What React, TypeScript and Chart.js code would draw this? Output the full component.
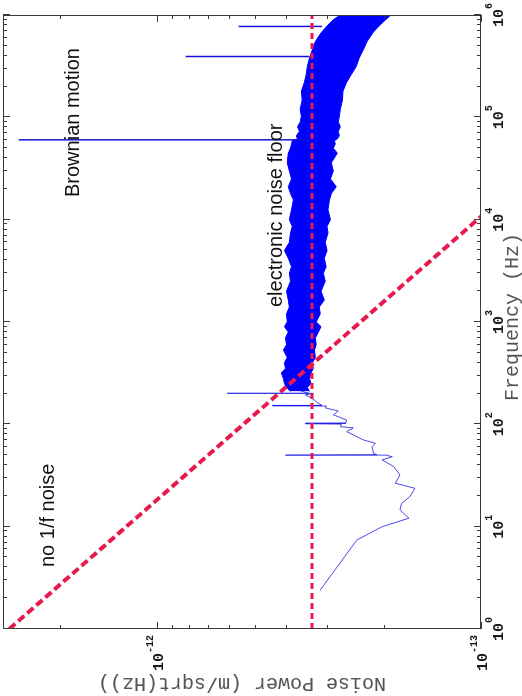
import React, { useEffect, useRef } from "react";
import { Chart, registerables } from "chart.js";

Chart.register(...registerables);

// ---- data (frequency in Hz, noise power in m/sqrt(Hz)) ----
const lowFreq = [2.4, 7.41, 10.0, 12.1, 14.6, 16.9, 19.6, 23.7, 26.6, 32.0, 38.6, 44.9, 48.3, 49.6, 50.0, 50.5, 52.2, 60.5, 65.3, 70.4, 75.9, 84.9, 92.3, 95.0, 100.5, 101.5, 102.5, 110, 124, 135, 145, 151, 152, 153, 162, 181, 194, 199.5, 200.5, 201.5, 212];
const lowPower = [3.14e-13, 2.42e-13, 2.02e-13, 1.67e-13, 1.78e-13, 1.76e-13, 1.66e-13, 1.6e-13, 1.84e-13, 1.78e-13, 1.86e-13, 2.02e-13, 1.88e-13, 1.95e-13, 4.02e-13, 2.1e-13, 2.15e-13, 2.17e-13, 2.12e-13, 2.31e-13, 2.42e-13, 2.6e-13, 2.48e-13, 2.72e-13, 2.7e-13, 3.49e-13, 2.62e-13, 2.6e-13, 2.86e-13, 2.76e-13, 3.03e-13, 3.0e-13, 4.41e-13, 3.1e-13, 3.19e-13, 3.34e-13, 3.49e-13, 3.3e-13, 6.09e-13, 3.4e-13, 3.61e-13];

// upper / lower envelope of the dense noise band
const bandFreq = [210, 230, 250, 280, 318, 350, 400, 450, 533, 600, 700, 800, 900, 1000, 1200, 1400, 1640, 2000, 2500, 3000, 3470, 4200, 5000, 6000, 7400, 8600, 1.0e4, 1.25e4, 1.56e4, 1.8e4, 2.1e4, 2.5e4, 3.0e4, 3.6e4, 4.47e4, 5.0e4, 5.5e4, 5.9e4, 6.15e4, 6.6e4, 7.3e4, 8.1e4, 9.0e4, 1.02e5, 1.2e5, 1.48e5, 1.8e5, 2.16e5, 2.6e5, 3.14e5, 3.8e5, 4.57e5, 5.5e5, 6.7e5, 8.0e5, 9.0e5, 1.0e6];
const bandHigh = [3.88e-13, 3.99e-13, 4.05e-13, 4.08e-13, 4.14e-13, 4.02e-13, 4.05e-13, 3.97e-13, 4.08e-13, 3.99e-13, 4.02e-13, 3.94e-13, 4.05e-13, 3.97e-13, 3.99e-13, 3.91e-13, 3.94e-13, 3.99e-13, 3.88e-13, 3.91e-13, 3.85e-13, 3.94e-13, 4.05e-13, 3.91e-13, 3.88e-13, 3.83e-13, 3.91e-13, 3.85e-13, 3.8e-13, 3.88e-13, 3.94e-13, 3.85e-13, 3.91e-13, 3.97e-13, 3.94e-13, 3.88e-13, 3.85e-13, 3.83e-13, 3.69e-13, 3.72e-13, 3.64e-13, 3.69e-13, 3.62e-13, 3.59e-13, 3.62e-13, 3.57e-13, 3.59e-13, 3.52e-13, 3.47e-13, 3.44e-13, 3.39e-13, 3.32e-13, 3.25e-13, 3.12e-13, 2.97e-13, 2.86e-13, 2.72e-13];
const bandLow = [3.39e-13, 3.44e-13, 3.35e-13, 3.39e-13, 3.35e-13, 3.3e-13, 3.32e-13, 3.25e-13, 3.27e-13, 3.23e-13, 3.25e-13, 3.18e-13, 3.12e-13, 3.23e-13, 3.14e-13, 3.16e-13, 3.05e-13, 3.12e-13, 3.03e-13, 3.07e-13, 3.01e-13, 3.05e-13, 2.99e-13, 3.03e-13, 2.97e-13, 2.99e-13, 2.92e-13, 2.97e-13, 2.94e-13, 2.9e-13, 2.8e-13, 2.92e-13, 2.86e-13, 2.9e-13, 2.78e-13, 2.86e-13, 2.82e-13, 2.84e-13, 2.78e-13, 2.74e-13, 2.76e-13, 2.72e-13, 2.76e-13, 2.74e-13, 2.72e-13, 2.68e-13, 2.67e-13, 2.61e-13, 2.52e-13, 2.43e-13, 2.38e-13, 2.31e-13, 2.25e-13, 2.16e-13, 2.05e-13, 1.97e-13, 1.9e-13];

const spikeFreq = [6.03e4, 3.93e5, 7.73e5];
const spikeBase = [3.4e-13, 3.4e-13, 3.1e-13];
const spikePeak = [2.68e-12, 8.18e-13, 5.61e-13];

const floorFreq = [1, 1e6];
const floorPower = [3.33e-13, 3.33e-13];
const flickerFreq = [1, 2e4];
const flickerPower = [2.87e-12, 7.98e-14];

const freqDecades = [0, 1, 2, 3, 4, 5, 6];
const powerMajor = [-13, -12];
const powerMinor = [2e-13, 3e-13, 4e-13, 5e-13, 6e-13, 7e-13, 8e-13, 9e-13, 2e-12];

const xTitle = "Frequency (Hz)";
const yTitle = "Noise Power (m/sqrt(Hz))";
const notes = [
  { text: "Brownian motion", du: 432, dv: 76 },
  { text: "electronic noise floor", du: 322, dv: 279 },
  { text: "no 1/f noise", du: 62, dv: 51 },
];

const W = 696;
const H = 522;
const RED = "#e8194d";
const BLUE = "#0000ff";

const pts = (xs: number[], ys: number[]) => xs.map((x, i) => ({ x, y: ys[i] }));

const decor = {
  id: "decor",
  afterDraw(chart: any) {
    const { ctx, chartArea: a, scales } = chart;
    const xs = scales.x;
    const ys = scales.y;
    ctx.save();
    ctx.strokeStyle = "#3a3a3a";
    ctx.lineWidth = 1;
    ctx.strokeRect(a.left + 0.5, a.top + 0.5, a.right - a.left - 1, a.bottom - a.top - 1);
    ctx.beginPath();
    freqDecades.forEach((d) => {
      for (let m = 1; m <= 9; m++) {
        const v = m * Math.pow(10, d);
        if (v > 1e6) break;
        const px = Math.round(xs.getPixelForValue(v)) + 0.5;
        const len = m === 1 ? 7 : 4;
        ctx.moveTo(px, a.bottom);
        ctx.lineTo(px, a.bottom - len);
        ctx.moveTo(px, a.top);
        ctx.lineTo(px, a.top + len);
      }
    });
    const pTicks = powerMajor.map((e) => ({ v: Math.pow(10, e), len: 7 })).concat(powerMinor.map((v) => ({ v, len: 4 })));
    pTicks.forEach((t) => {
      const py = Math.round(ys.getPixelForValue(t.v)) + 0.5;
      ctx.moveTo(a.left, py);
      ctx.lineTo(a.left + t.len, py);
      ctx.moveTo(a.right, py);
      ctx.lineTo(a.right - t.len, py);
    });
    ctx.stroke();

    // tick labels
    ctx.fillStyle = "#1a1a1a";
    const base = 'bold 15px "Liberation Mono", "DejaVu Sans Mono", monospace';
    const sup = 'bold 10px "Liberation Mono", "DejaVu Sans Mono", monospace';
    ctx.textBaseline = "alphabetic";
    ctx.textAlign = "left";
    freqDecades.forEach((d) => {
      const px = xs.getPixelForValue(Math.pow(10, d));
      ctx.font = base;
      const w1 = ctx.measureText("10").width;
      ctx.font = sup;
      const w2 = ctx.measureText(String(d)).width;
      const start = px - (w1 + w2) / 2;
      ctx.font = base;
      ctx.fillText("10", start, a.bottom + 22);
      ctx.font = sup;
      ctx.fillText(String(d), start + w1, a.bottom + 11);
    });
    powerMajor.forEach((e) => {
      const py = ys.getPixelForValue(Math.pow(10, e));
      ctx.font = base;
      const w1 = ctx.measureText("10").width;
      ctx.font = sup;
      const s = String(e);
      const w2 = ctx.measureText(s).width;
      const start = a.left - 6 - (w1 + w2);
      ctx.font = base;
      ctx.fillText("10", start, py + 6);
      ctx.font = sup;
      ctx.fillText(s, start + w1, py - 4);
    });

    // axis titles
    ctx.fillStyle = "#555";
    ctx.font = '20px "Liberation Mono", "DejaVu Sans Mono", monospace';
    ctx.textAlign = "center";
    ctx.textBaseline = "middle";
    ctx.fillText(xTitle, (a.left + a.right) / 2 + 5, a.bottom + 32);
    ctx.save();
    ctx.translate(12.5, (a.top + a.bottom) / 2);
    ctx.rotate(-Math.PI / 2);
    ctx.fillText(yTitle, 0, 0);
    ctx.restore();

    // annotations
    ctx.fillStyle = "#111";
    ctx.font = '20px "Liberation Sans", Arial, sans-serif';
    ctx.textAlign = "left";
    ctx.textBaseline = "alphabetic";
    notes.forEach((n) => ctx.fillText(n.text, a.left + n.du, a.top + n.dv));
    ctx.restore();
  },
};

export default function App() {
  const ref = useRef<HTMLCanvasElement | null>(null);
  useEffect(() => {
    if (!ref.current) return;
    const common = { pointRadius: 0, tension: 0, fill: false };
    const spikeSets = spikeFreq.map((f, i) => ({
      ...common,
      data: [{ x: f, y: spikeBase[i] }, { x: f, y: spikePeak[i] }],
      borderColor: "#1414d2",
      borderWidth: 1.5,
    }));
    const chart = new Chart(ref.current, {
      type: "line",
      data: {
        datasets: [
          { ...common, data: pts(floorFreq, floorPower), borderColor: RED, borderWidth: 3, borderDash: [6, 4] },
          { ...common, data: pts(flickerFreq, flickerPower), borderColor: RED, borderWidth: 4, borderDash: [8, 4] },
          ...spikeSets,
          { ...common, data: pts(lowFreq, lowPower), borderColor: "rgba(30,30,230,0.8)", borderWidth: 1 },
          { ...common, data: pts(bandFreq, bandHigh), borderColor: BLUE, borderWidth: 1 },
          { ...common, data: pts(bandFreq, bandLow), borderColor: BLUE, borderWidth: 1, fill: "-1", backgroundColor: BLUE },
        ] as any,
      },
      options: {
        responsive: false,
        animation: false,
        events: [],
        layout: { padding: { top: 3, right: 15, left: 0, bottom: 0 } },
        plugins: { legend: { display: false }, tooltip: { enabled: false }, title: { display: false } },
        scales: {
          x: {
            type: "logarithmic",
            min: 1,
            max: 1e6,
            position: "bottom",
            grid: { display: false },
            border: { display: false },
            ticks: { display: false },
            afterFit: (s: any) => {
              s.height = 41;
            },
          },
          y: {
            type: "logarithmic",
            min: 1e-13,
            max: 3e-12,
            grid: { display: false },
            border: { display: false },
            ticks: { display: false },
            afterFit: (s: any) => {
              s.width = 67;
            },
          },
        },
      } as any,
      plugins: [decor],
    });
    return () => chart.destroy();
  }, []);

  return (
    <div style={{ position: "fixed", left: 0, top: 0, width: 522, height: 696, overflow: "hidden", background: "#fff" }}>
      <div
        style={{
          position: "absolute",
          left: 0,
          top: 0,
          width: W,
          height: H,
          transformOrigin: "0 0",
          transform: `translate(0px, ${W}px) rotate(-90deg)`,
        }}
      >
        <canvas ref={ref} width={W} height={H} style={{ display: "block", width: W, height: H }} />
      </div>
    </div>
  );
}
